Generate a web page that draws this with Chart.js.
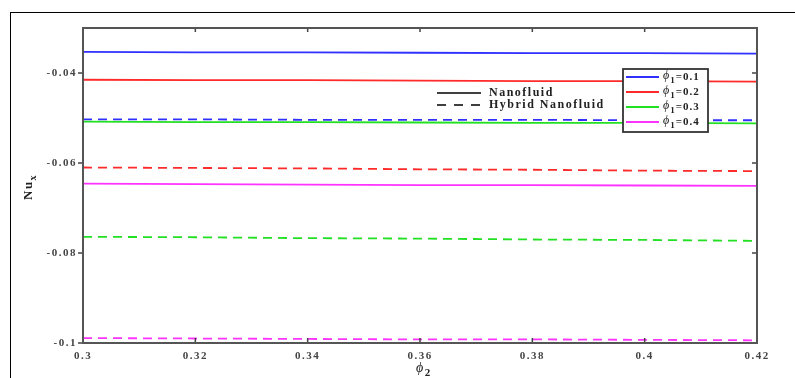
<!DOCTYPE html>
<html>
<head>
<meta charset="utf-8">
<script src="https://cdn.jsdelivr.net/npm/chart.js@4"></script>
<style>
  html, body { margin: 0; padding: 0; background: #fff; }
  #wrap { position: relative; width: 795px; height: 378px; }
  #frame { position: absolute; left: 10px; top: 12px; right: 0; bottom: 0;
           border-top: 1.5px solid #000; border-left: 1.5px solid #000; pointer-events: none; }
</style>
</head>
<body>
<div id="wrap">
  <canvas id="nu-chart" width="795" height="378"></canvas>
  <div id="frame"></div>
</div>
<script>
// phi2 values along the x axis
const phi2 = [0.30, 0.32, 0.34, 0.36, 0.38, 0.40, 0.42];
const xTicks = [0.3, 0.32, 0.34, 0.36, 0.38, 0.4, 0.42];
const yTicks = [-0.1, -0.08, -0.06, -0.04];

// Nu_x, nanofluid (solid)
const nanoPhi01 = [-0.0353, -0.0354, -0.0354, -0.0355, -0.0356, -0.0356, -0.0357];
const nanoPhi02 = [-0.0415, -0.0416, -0.0416, -0.0417, -0.0418, -0.0418, -0.0419];
const nanoPhi03 = [-0.0508, -0.0509, -0.0509, -0.0510, -0.0511, -0.0511, -0.0512];
const nanoPhi04 = [-0.0646, -0.0647, -0.0648, -0.0649, -0.0649, -0.0650, -0.0651];

// Nu_x, hybrid nanofluid (dashed)
const hybridPhi01 = [-0.0503, -0.0503, -0.0504, -0.0504, -0.0504, -0.0505, -0.0505];
const hybridPhi02 = [-0.0610, -0.0611, -0.0612, -0.0614, -0.0615, -0.0617, -0.0618];
const hybridPhi03 = [-0.0764, -0.0765, -0.0767, -0.0768, -0.0770, -0.0771, -0.0773];
const hybridPhi04 = [-0.0989, -0.0990, -0.0991, -0.0992, -0.0992, -0.0993, -0.0994];

const phi1Labels = ['0.1', '0.2', '0.3', '0.4'];
const colors = ['#3030ff', '#ff2a2a', '#22e022', '#ff33ff'];

const serif = '"Liberation Serif", "DejaVu Serif", serif';
const PHI = '\u03D5';

function series(values, color, dashed) {
    return {
        data: values.map((v, i) => ({ x: phi2[i], y: v })),
        borderColor: color,
        borderWidth: 1.8,
        borderDash: dashed ? [9, 6] : [],
        pointRadius: 0,
        fill: false,
        tension: 0
    };
}

const datasets = [
    series(nanoPhi01, colors[0], false),
    series(nanoPhi02, colors[1], false),
    series(nanoPhi03, colors[2], false),
    series(nanoPhi04, colors[3], false),
    series(hybridPhi01, colors[0], true),
    series(hybridPhi02, colors[1], true),
    series(hybridPhi03, colors[2], true),
    series(hybridPhi04, colors[3], true)
];

// text with a subscript, returns end x
function subText(ctx, base, sub, x, y, size, italicBase) {
    ctx.font = (italicBase ? 'italic ' : 'bold ') + size + 'px ' + serif;
    ctx.fillText(base, x, y);
    let w = ctx.measureText(base).width;
    ctx.font = 'bold ' + Math.round(size * 0.75) + 'px ' + serif;
    ctx.fillText(sub, x + w, y + size * 0.35);
    return x + w + ctx.measureText(sub).width;
}

const decorPlugin = {
    id: 'decor',
    beforeDraw(chart) {
        chart.ctx.letterSpacing = '1.5px';
    },
    afterDatasetsDraw(chart) {
        const ctx = chart.ctx;
        const a = chart.chartArea;
        const ys = chart.scales.y;
        const xs = chart.scales.x;
        ctx.save();

        // tick marks: outward on the left, inward elsewhere
        ctx.strokeStyle = '#444';
        ctx.lineWidth = 1.5;
        yTicks.forEach(t => {
            const py = ys.getPixelForValue(t);
            ctx.beginPath();
            ctx.moveTo(a.left, py); ctx.lineTo(a.left - 5, py);
            ctx.moveTo(a.right, py); ctx.lineTo(a.right - 5, py);
            ctx.stroke();
        });
        xTicks.forEach(t => {
            const px = xs.getPixelForValue(t);
            ctx.beginPath();
            ctx.moveTo(px, a.bottom); ctx.lineTo(px, a.bottom - 5);
            ctx.moveTo(px, a.top); ctx.lineTo(px, a.top + 4);
            ctx.stroke();
        });

        // plot frame
        ctx.strokeStyle = '#555';
        ctx.lineWidth = 2;
        ctx.strokeRect(a.left, a.top, a.right - a.left, a.bottom - a.top);

        // line style legend
        ctx.strokeStyle = '#000';
        ctx.lineWidth = 1.5;
        ctx.beginPath();
        ctx.moveTo(437, 93); ctx.lineTo(481, 93);
        ctx.stroke();
        ctx.setLineDash([9, 8]);
        ctx.beginPath();
        ctx.moveTo(437, 105); ctx.lineTo(481, 105);
        ctx.stroke();
        ctx.setLineDash([]);
        ctx.fillStyle = '#222';
        ctx.textBaseline = 'middle';
        ctx.font = 'bold 12px ' + serif;
        ctx.fillText('Nanofluid', 489, 93);
        ctx.fillText('Hybrid Nanofluid', 489, 105);

        // phi1 legend box
        ctx.fillStyle = '#fff';
        ctx.fillRect(623, 69, 85, 63);
        ctx.strokeStyle = '#333';
        ctx.lineWidth = 1.8;
        ctx.strokeRect(623, 69, 85, 63);
        const rows = [77, 92, 107, 122];
        ctx.letterSpacing = '1px';
        phi1Labels.forEach((lab, i) => {
            ctx.strokeStyle = colors[i];
            ctx.lineWidth = 1.8;
            ctx.beginPath();
            ctx.moveTo(626, rows[i]); ctx.lineTo(659, rows[i]);
            ctx.stroke();
            ctx.fillStyle = '#222';
            const ex = subText(ctx, PHI, '1', 663, rows[i] - 1, 12, true);
            ctx.font = 'bold 11px ' + serif;
            ctx.fillText('=' + lab, ex, rows[i]);
        });

        // axis titles
        ctx.letterSpacing = '1.5px';
        ctx.fillStyle = '#222';
        ctx.save();
        ctx.translate(29, 188);
        ctx.rotate(-Math.PI / 2);
        ctx.textBaseline = 'middle';
        subText(ctx, 'Nu', 'x', -12, 0, 13, false);
        ctx.restore();
        ctx.textBaseline = 'middle';
        subText(ctx, PHI, '2', 416, 368, 14, true);

        ctx.restore();
    }
};

new Chart(document.getElementById('nu-chart'), {
    type: 'line',
    data: { datasets: datasets },
    plugins: [decorPlugin],
    options: {
        responsive: false,
        animation: false,
        layout: { padding: { top: 28, right: 38, left: 0, bottom: 0 } },
        plugins: { legend: { display: false }, tooltip: { enabled: false } },
        scales: {
            x: {
                type: 'linear',
                min: 0.3,
                max: 0.42,
                afterBuildTicks: s => { s.ticks = xTicks.map(v => ({ value: v })); },
                afterFit: s => { s.height = 35; },
                grid: { display: false, drawTicks: false },
                border: { display: false },
                ticks: {
                    padding: 7,
                    color: '#444',
                    font: { family: serif, size: 11, weight: 'bold' },
                    callback: v => String(Math.round(v * 100) / 100),
                    maxRotation: 0,
                    autoSkip: false
                }
            },
            y: {
                min: -0.1,
                max: -0.03,
                afterBuildTicks: s => { s.ticks = yTicks.map(v => ({ value: v })); },
                afterFit: s => { s.width = 83; },
                grid: { display: false, drawTicks: false },
                border: { display: false },
                ticks: {
                    padding: 6,
                    color: '#444',
                    font: { family: serif, size: 11, weight: 'bold' },
                    callback: v => String(Math.round(v * 100) / 100)
                }
            }
        }
    }
});
</script>
</body>
</html>
